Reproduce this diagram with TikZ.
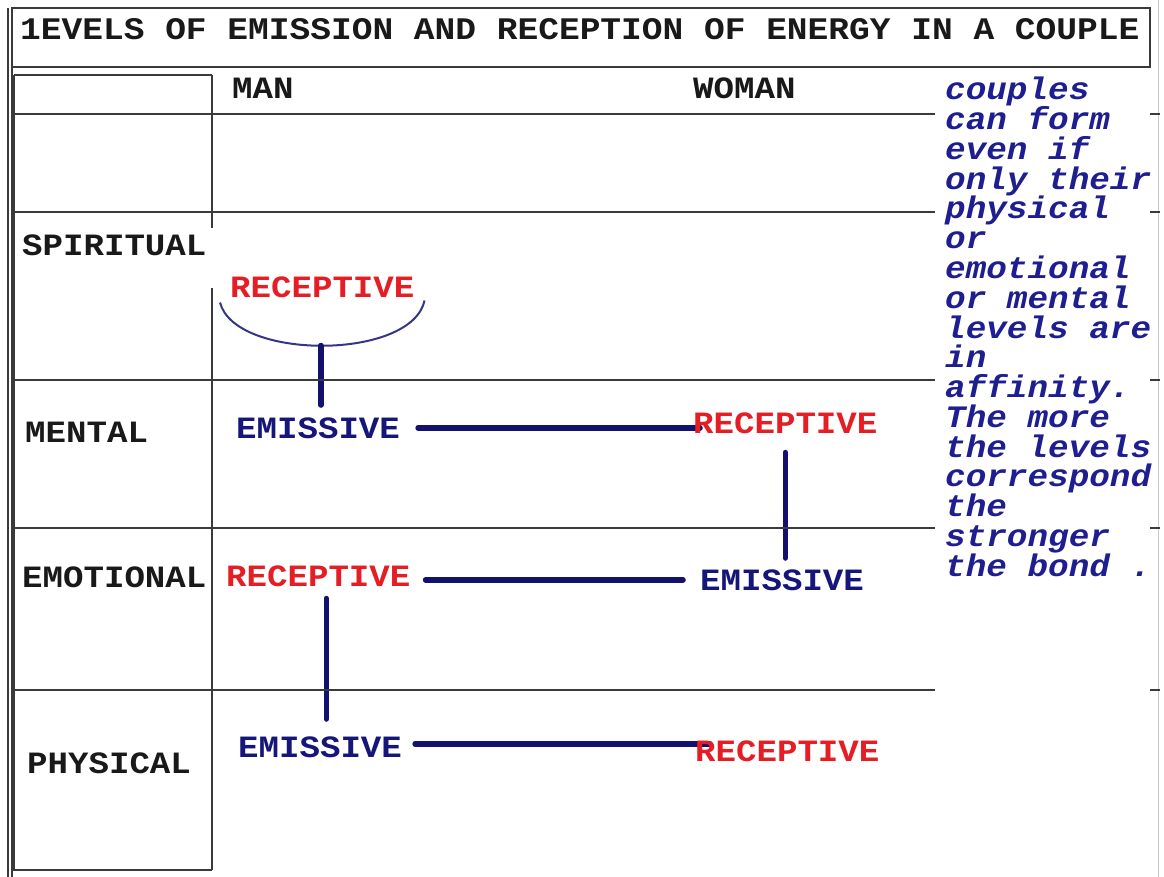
\documentclass[tikz,border=0pt]{standalone}
\usepackage{fontspec}
\newfontfamily\boxfont[FakeStretch=1.1]{Liberation Mono}
\usetikzlibrary{backgrounds}
\definecolor{rule}{HTML}{3A3A3A}
\definecolor{emit}{HTML}{16167A}
\definecolor{recv}{HTML}{E41E24}
\definecolor{wire}{HTML}{12126E}
\definecolor{notecol}{HTML}{1E1E90}
\begin{document}
\begin{tikzpicture}[x=1pt,y=-1pt,
  grid/.style={draw=rule, line width=2pt},
  lbl/.style={inner sep=0pt, anchor=base west, text=black!90,
    font=\fontsize{31}{31}\selectfont\boxfont\bfseries},
  emis/.style={lbl, text=emit},
  recp/.style={lbl, text=recv},
  link/.style={draw=wire, line width=5.5pt, line cap=round},
  cup/.style={draw=wire!85, line width=2pt},
  notetext/.style={inner sep=0pt, anchor=base west, text=notecol,
    font=\fontsize{31.2}{31.2}\selectfont\boxfont\bfseries\itshape}]

\useasboundingbox (0,0) rectangle (1164,877);

% outer frame and title box
\draw[grid] (8,8) -- (8,877);
\draw[grid] (11.5,8) -- (11.5,877);
\draw[grid] (11.5,8) rectangle (1150,67);
\draw[gray!40, line width=1pt] (1158,0) -- (1158,877);

% level column
\draw[grid] (14,75) -- (212,75);
\draw[grid] (14,75) -- (14,870) -- (212,870);
\draw[grid] (212,75) -- (212,228);
\draw[grid] (212,288) -- (212,870);
\foreach \y in {114,212,380,528,690} {
  \draw[grid] (14,\y) -- (935,\y);
  \draw[grid] (1150,\y) -- (1160,\y);
}

% headings
\node[lbl, font=\fontsize{31.4}{31.4}\selectfont\boxfont\bfseries] (title) at (20,40)
  {1EVELS OF EMISSION AND RECEPTION OF ENERGY IN A COUPLE};
\node[lbl] (man) at (232,99) {MAN};
\node[lbl] (woman) at (693,99) {WOMAN};

% levels
\node[lbl] (spir) at (22,256) {SPIRITUAL};
\node[lbl] (ment) at (25,442) {MENTAL};
\node[lbl] (emot) at (22,587) {EMOTIONAL};
\node[lbl] (phys) at (27,773) {PHYSICAL};

% roles
\node[recp] (recS) at (230,298) {RECEPTIVE};
\node[emis] (emM) at (236,438) {EMISSIVE};
\node[recp] (recW) at (693,433) {RECEPTIVE};
\node[recp] (recE) at (226,586) {RECEPTIVE};
\node[emis] (emW) at (700,590) {EMISSIVE};
\node[emis] (emP) at (238,757) {EMISSIVE};
\node[recp] (recP) at (695,761) {RECEPTIVE};

% side note
\foreach \t [count=\i from 0] in {couples,can form,even if,only their,physical,or,emotional,or mental,levels are,in,affinity.,The more,the levels,correspond,the,stronger,the bond .}
  \node[notetext] (note\i) at (945,{100+29.75*\i}) {\t};

% links between roles
\begin{pgfonlayer}{background}
  \coordinate (cupL) at ([xshift=-10pt,yshift=-4pt]recS.south west);
  \coordinate (cupR) at ([xshift=10pt,yshift=-2pt]recS.south east);
  \coordinate (cupB) at ([xshift=-1.5pt,yshift=-47pt]recS.south);
  \draw[cup] (cupL) .. controls +(15,58) and +(-13,60) .. (cupR);
  \path (cupB |- emM.north) coordinate (sEnd);
  \draw[link] (cupB) -- ([yshift=12pt]sEnd);

  \path (recW.west |- emM.east) coordinate (mEnd);
  \draw[link] ([xshift=18pt]emM.east) -- ([xshift=7pt]mEnd);

  \path (recW.south |- emW.north) coordinate (wEnd);
  \draw[link] ([yshift=-19pt]recW.south) -- ([yshift=11pt]wEnd);

  \path (recE.east |- emW.west) coordinate (eStart);
  \draw[link] ([xshift=15pt]eStart) -- ([xshift=-17pt]emW.west);

  \coordinate (vTop) at ([xshift=8pt]recE.south);
  \path (vTop |- emP.north) coordinate (vEnd);
  \draw[link] ([yshift=-12pt]vTop) -- ([yshift=17pt]vEnd);

  \path (recP.west |- emP.east) coordinate (pEnd);
  \draw[link] ([xshift=13pt,yshift=3pt]emP.east) -- ([xshift=15pt,yshift=3pt]pEnd);
\end{pgfonlayer}
\end{tikzpicture}
\end{document}
